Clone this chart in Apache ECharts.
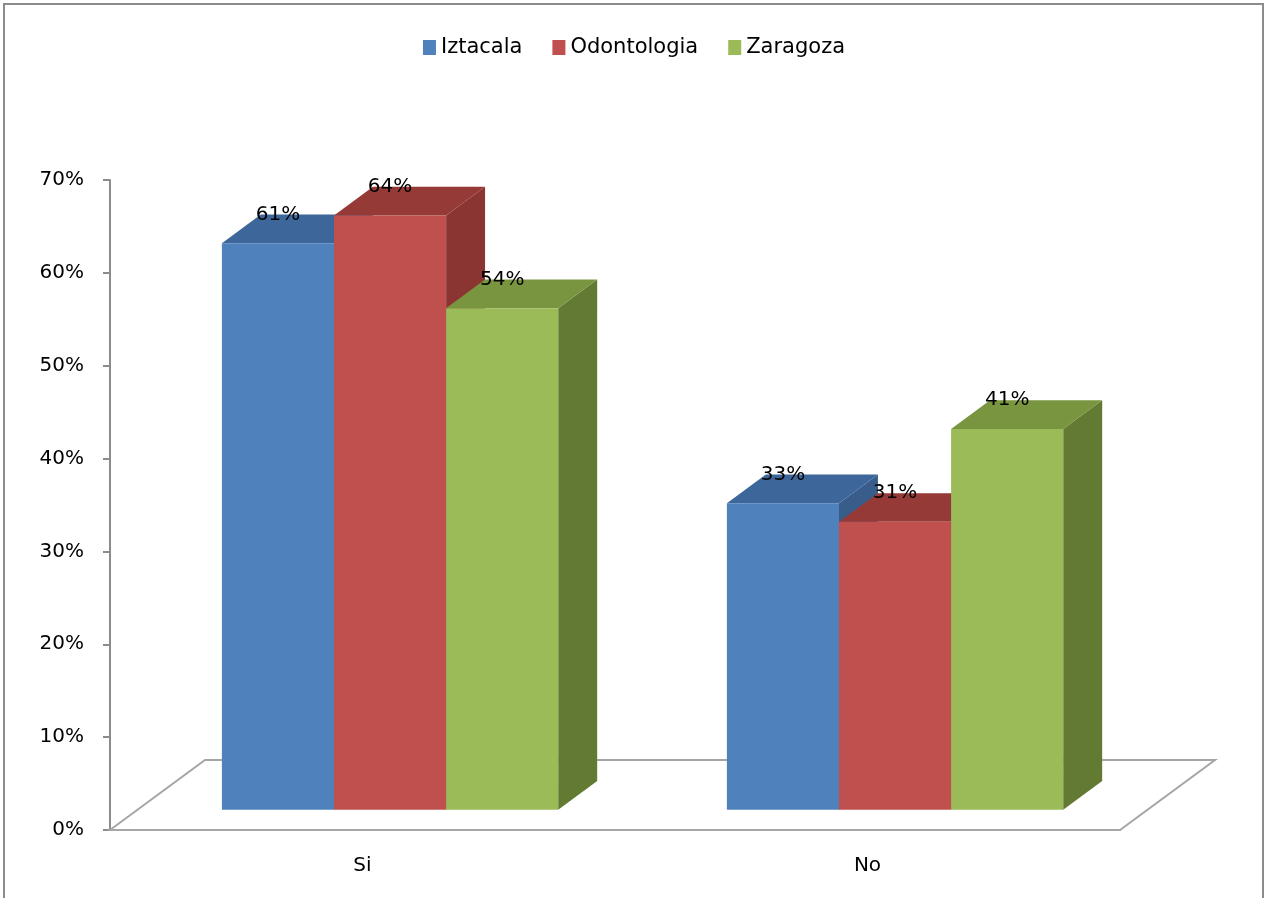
<!DOCTYPE html>
<html>
<head>
<meta charset="utf-8">
<script src="https://cdn.jsdelivr.net/npm/echarts@6/dist/echarts.min.js"></script>
<style>
    html, body { margin: 0; padding: 0; background: #fff; }
    #main { width: 1268px; height: 898px; }
</style>
</head>
<body>
<div id="main"></div>
<script>
// datos
var categories = ['Si', 'No'];
var seriesNames = ['Iztacala', 'Odontologia', 'Zaragoza'];
var iztacala = [61, 33];
var odontologia = [64, 31];
var zaragoza = [54, 41];
var yTicks = [0, 10, 20, 30, 40, 50, 60, 70];

// colores: frente, tapa, lado
var faces = [
    ['#4F81BD', '#3D679B', '#385D8A'],
    ['#C0504D', '#963A37', '#8A3532'],
    ['#9BBB59', '#7A9540', '#637A33']
];

var FONT = '20px "DejaVu Sans"';
var DEPTH = [95, -70];       // fondo del piso
var FRONT = 0.29;            // donde empieza la barra dentro del piso
var BAR_DEPTH = 0.41;        // profundidad de la barra

var myChart = echarts.init(document.getElementById('main'));

function barRenderer(k) {
    return function (params, api) {
        var cat = api.value(0);
        var val = api.value(1);
        var base = api.coord([cat, 0]);
        var top = api.coord([cat, val]);
        var band = api.size([1, 0])[0];
        var bw = band * 0.222;
        var ox = DEPTH[0] * FRONT, oy = DEPTH[1] * FRONT;
        var dx = DEPTH[0] * BAR_DEPTH, dy = DEPTH[1] * BAR_DEPTH;
        var x0 = base[0] - 1.5 * bw + k * bw + ox;
        var x1 = x0 + bw;
        var yb = base[1] + oy;
        var yt = top[1] + oy;
        var c = faces[k];
        return {
            type: 'group',
            children: [
                {
                    type: 'polygon',
                    shape: { points: [[x1, yt], [x1 + dx, yt + dy], [x1 + dx, yb + dy], [x1, yb]] },
                    style: { fill: c[2] }
                },
                {
                    type: 'polygon',
                    shape: { points: [[x0, yt], [x0 + dx, yt + dy], [x1 + dx, yt + dy], [x1, yt]] },
                    style: { fill: c[1] }
                },
                {
                    type: 'rect',
                    shape: { x: x0, y: yt, width: bw, height: yb - yt },
                    style: { fill: c[0] }
                },
                {
                    type: 'text',
                    z2: 10,
                    style: {
                        text: val + '%',
                        x: x0 + bw / 2,
                        y: yt + dy,
                        align: 'center',
                        verticalAlign: 'middle',
                        font: FONT,
                        fill: '#000'
                    }
                }
            ]
        };
    };
}

function floorRenderer(params, api) {
    var cs = params.coordSys;
    var xl = cs.x, xr = cs.x + cs.width, yf = cs.y + cs.height;
    return {
        type: 'polygon',
        shape: {
            points: [[xl, yf], [xl + DEPTH[0], yf + DEPTH[1]], [xr + DEPTH[0], yf + DEPTH[1]], [xr, yf]]
        },
        style: { fill: '#fff', stroke: '#a6a6a6', lineWidth: 2 }
    };
}

var allValues = [iztacala, odontologia, zaragoza];
var series = [{
    name: 'piso',
    type: 'custom',
    renderItem: floorRenderer,
    data: [[0, 0]],
    z: 1,
    silent: true
}];
for (var k = 0; k < seriesNames.length; k++) {
    series.push({
        name: seriesNames[k],
        type: 'custom',
        renderItem: barRenderer(k),
        itemStyle: { color: faces[k][0] },
        encode: { x: 0, y: 1 },
        data: allValues[k].map(function (v, i) { return [i, v]; }),
        z: 2 + k
    });
}

var option = {
    backgroundColor: '#fff',
    animation: false,
    graphic: [{
        type: 'rect',
        shape: { x: 4, y: 4, width: 1259, height: 900 },
        style: { fill: 'none', stroke: '#8c8c8c', lineWidth: 2 },
        silent: true
    }],
    legend: {
        data: seriesNames,
        top: 32,
        left: 'center',
        icon: 'rect',
        itemWidth: 13,
        itemHeight: 15,
        itemGap: 30,
        textStyle: { fontFamily: 'DejaVu Sans', fontSize: 21, color: '#000' }
    },
    grid: {
        left: 110,
        right: 148,
        top: 180,
        bottom: 68
    },
    xAxis: {
        type: 'category',
        data: categories,
        axisLine: { show: true, lineStyle: { color: '#a6a6a6', width: 2 } },
        axisTick: { show: false },
        axisLabel: { margin: 26, fontFamily: 'DejaVu Sans', fontSize: 20, color: '#000' },
        splitLine: { show: false }
    },
    yAxis: {
        type: 'value',
        min: yTicks[0],
        max: yTicks[yTicks.length - 1],
        interval: 10,
        axisLine: { show: true, lineStyle: { color: '#8c8c8c', width: 2 } },
        axisTick: { show: true, length: 7, lineStyle: { color: '#8c8c8c', width: 2 } },
        axisLabel: { margin: 26, formatter: '{value}%', fontFamily: 'DejaVu Sans', fontSize: 20, color: '#000' },
        splitLine: { show: false }
    },
    series: series
};

myChart.setOption(option);
</script>
</body>
</html>
